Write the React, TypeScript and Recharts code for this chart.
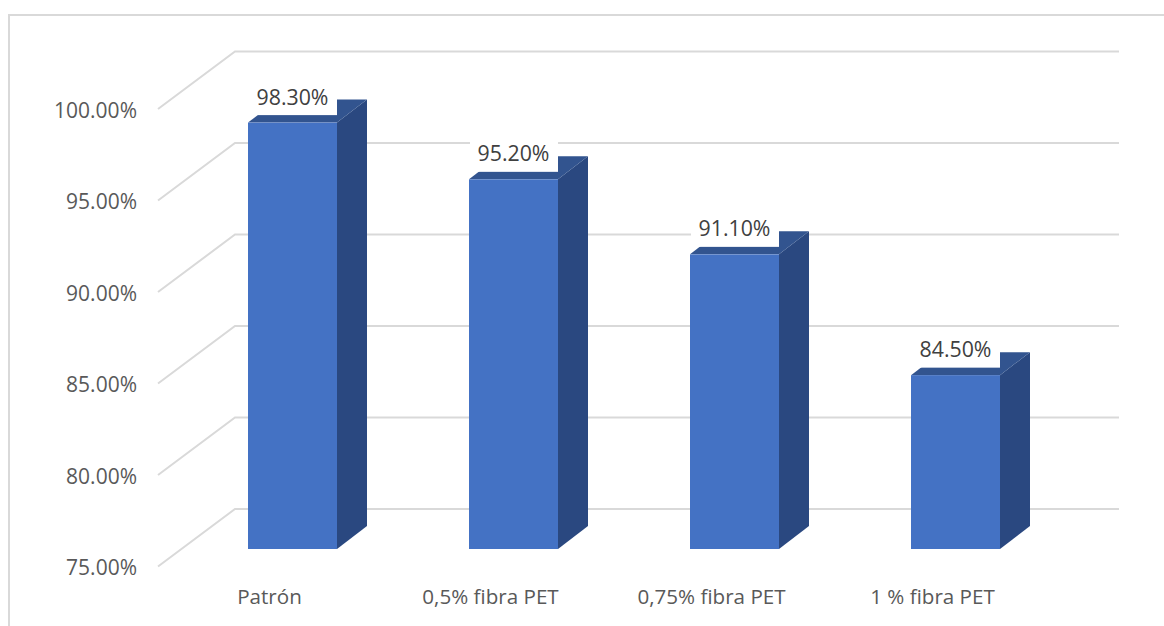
import React from 'react';
import { BarChart, Bar, XAxis, YAxis, CartesianGrid, LabelList } from 'recharts';

const categories = ['Patrón', '0,5% fibra PET', '0,75% fibra PET', '1 % fibra PET'];
const seriesValues = [98.3, 95.2, 91.1, 84.5];
const yTicks = [75, 80, 85, 90, 95, 100];
const yDomain = [75, 100];

const rows = categories.map((name, i) => ({ name, value: seriesValues[i] }));

const FONT = '"Open Sans", sans-serif';
const percent = (v: number) => `${v.toFixed(2)}%`;

// Depth of the pseudo-3D box and of the floor/wall planes around the bar plane.
const BOX_DX = 30;
const BOX_DY = 23;
const WALL_DX = 53;
const WALL_DY = 40;
const FLOOR_DX = 24;
const FLOOR_DY = 17.5;

function Box3D(props: any) {
  const { x, y, width, height } = props;
  const right = x + width;
  const bottom = y + height;
  return (
    <g>
      <polygon
        points={`${right},${y} ${right + BOX_DX},${y - BOX_DY} ${right + BOX_DX},${bottom - BOX_DY} ${right},${bottom}`}
        fill="#2a4880"
      />
      <polygon
        points={`${x},${y} ${x + BOX_DX},${y - BOX_DY} ${right + BOX_DX},${y - BOX_DY} ${right},${y}`}
        fill="#32548f"
      />
      <rect x={x} y={y} width={width} height={height} fill="#4472c4" />
    </g>
  );
}

function ValueTag(props: any) {
  const { x, y, width, value } = props;
  return (
    <g>
      <rect x={x + 1} y={y - 44} width={width - 1} height={36.5} fill="#ffffff" />
      <text
        x={x + width / 2}
        y={y - 26.5}
        textAnchor="middle"
        dominantBaseline="central"
        fontFamily={FONT}
        fontSize={21.3}
        fill="#404040"
      >
        {percent(value)}
      </text>
    </g>
  );
}

function GridRail(props: any) {
  const { x1, x2, y1 } = props;
  const d = `M${x1 - FLOOR_DX},${y1 + FLOOR_DY} L${x1 + WALL_DX},${y1 - WALL_DY} L${x2 + WALL_DX},${y1 - WALL_DY}`;
  return <path key={`rail-${y1}`} d={d} fill="none" stroke="#d9d9d9" strokeWidth={2} />;
}

export default function App() {
  return (
    <div style={{ position: 'absolute', left: 0, top: 0, width: 1164, height: 626, overflow: 'hidden', background: '#fff' }}>
      <div
        style={{
          position: 'absolute',
          left: 8,
          top: 14,
          right: -4,
          bottom: -4,
          borderLeft: '2px solid #d9d9d9',
          borderTop: '2px solid #d9d9d9',
        }}
      />
      <BarChart
        width={1164}
        height={626}
        data={rows}
        margin={{ top: 91.5, right: 98, bottom: 0, left: 0 }}
        style={{ position: 'absolute', left: 0, top: 0 }}
      >
        <CartesianGrid vertical={false} horizontal={GridRail as any} />
        <XAxis
          dataKey="name"
          height={77}
          axisLine={false}
          tickLine={false}
          tickSize={0}
          tickMargin={40}
          interval={0}
          tick={{ fontFamily: FONT, fontSize: 20.6, fill: '#595959', dx: -23 }}
        />
        <YAxis
          domain={yDomain}
          ticks={yTicks}
          width={182}
          axisLine={false}
          tickLine={false}
          tickSize={0}
          tickMargin={45}
          interval={0}
          tickFormatter={percent}
          tick={{ fontFamily: FONT, fontSize: 21, fill: '#595959', dy: 19 }}
        />
        <Bar dataKey="value" barSize={89} shape={Box3D} isAnimationActive={false}>
          <LabelList dataKey="value" content={ValueTag} />
        </Bar>
      </BarChart>
    </div>
  );
}
